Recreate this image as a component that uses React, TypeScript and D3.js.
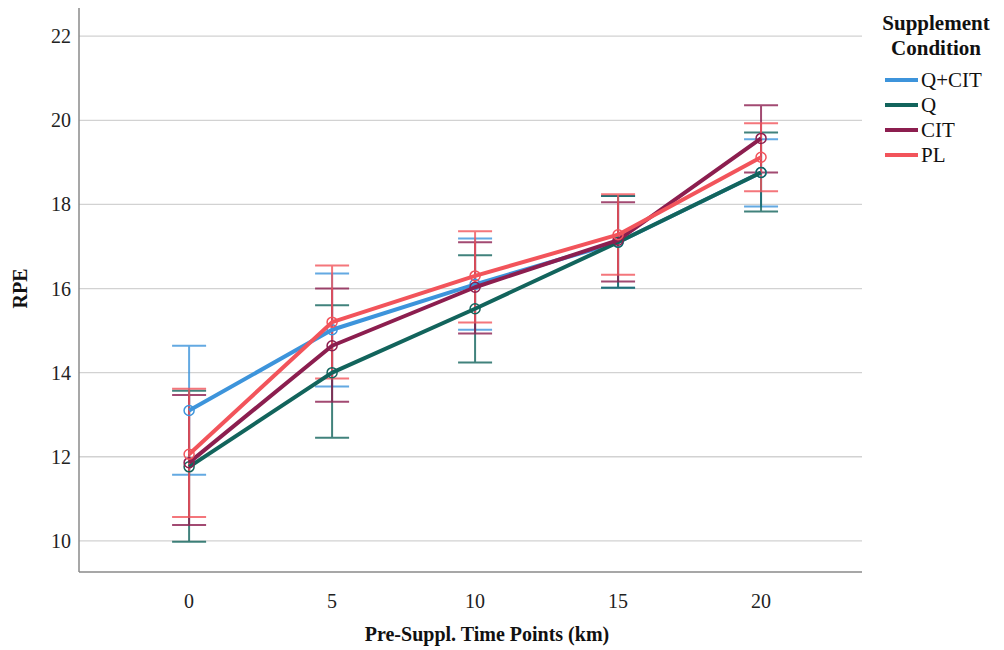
import React from 'react'
import * as d3 from 'd3'

// time points (km) and series
const timePoints = [0, 5, 10, 15, 20]
const seriesNames = ['Q+CIT', 'Q', 'CIT', 'PL']
const seriesColors = ['#3d94db', '#12645c', '#8c1e4f', '#f2545b']

const qcitMean = [13.1, 15.02, 16.1, 17.1, 18.76]
const qMean = [11.76, 14.0, 15.52, 17.1, 18.76]
const citMean = [11.86, 14.64, 16.03, 17.15, 19.57]
const plMean = [12.06, 15.2, 16.3, 17.28, 19.12]

const qcitLow = [11.57, 13.67, 15.02, 16.02, 17.95]
const qcitHigh = [14.64, 16.36, 17.19, 18.2, 19.55]
const qLow = [9.98, 12.45, 14.24, 16.02, 17.83]
const qHigh = [13.57, 15.6, 16.79, 18.2, 19.71]
const citLow = [10.38, 13.31, 14.93, 16.17, 18.76]
const citHigh = [13.47, 16.0, 17.1, 18.05, 20.36]
const plLow = [10.57, 13.86, 15.19, 16.33, 18.31]
const plHigh = [13.62, 16.55, 17.36, 18.24, 19.93]

const yTicks = [10, 12, 14, 16, 18, 20, 22]

const means = [qcitMean, qMean, citMean, plMean]
const lows = [qcitLow, qLow, citLow, plLow]
const highs = [qcitHigh, qHigh, citHigh, plHigh]

const W = 1004
const H = 650
const left = 79
const right = 862
const top = 8
const bottom = 572
const font = '"Liberation Serif", "Times New Roman", serif'

const App = () => {
    const x = d3.scaleLinear().domain([-3.85, 23.53]).range([left, right])
    const y = d3.scaleLinear().domain([9.26, 22.67]).range([bottom, top])

    const line = d3
        .line<number>()
        .x((d, i) => x(timePoints[i]))
        .y(d => y(d))

    const cap = 17

    return (
        <svg
            width={W}
            height={H}
            style={{ position: 'absolute', left: 0, top: 0, background: '#fff' }}
            fontFamily={font}
        >
            {/* grid */}
            {yTicks.map(t => (
                <line
                    key={t}
                    x1={left}
                    x2={right}
                    y1={y(t)}
                    y2={y(t)}
                    stroke='#d2d2d2'
                    strokeWidth={1.3}
                />
            ))}
            {/* axes */}
            <line x1={left} x2={left} y1={top} y2={bottom} stroke='#8a8a8a' strokeWidth={1.5} />
            <line x1={left} x2={right} y1={bottom} y2={bottom} stroke='#8a8a8a' strokeWidth={1.5} />
            {yTicks.map(t => (
                <text key={t} x={71} y={y(t)} dy='0.35em' textAnchor='end' fontSize={20} fill='#222'>
                    {t}
                </text>
            ))}
            {timePoints.map(t => (
                <text key={t} x={x(t)} y={601} dy='0.35em' textAnchor='middle' fontSize={20} fill='#222'>
                    {t}
                </text>
            ))}
            <text x={487} y={634} dy='0.35em' textAnchor='middle' fontSize={20} fontWeight='bold' fill='#111'>
                Pre-Suppl. Time Points (km)
            </text>
            <text
                transform={`translate(20, ${y(16)}) rotate(-90)`}
                dy='0.35em'
                textAnchor='middle'
                fontSize={20}
                fontWeight='bold'
                fill='#111'
            >
                RPE
            </text>

            {/* error bars */}
            {seriesNames.map((s, si) => (
                <g key={s} stroke={seriesColors[si]} strokeWidth={2} opacity={0.8}>
                    {timePoints.map((t, i) => (
                        <g key={t}>
                            <line x1={x(t)} x2={x(t)} y1={y(lows[si][i])} y2={y(highs[si][i])} />
                            <line x1={x(t) - cap} x2={x(t) + cap} y1={y(lows[si][i])} y2={y(lows[si][i])} />
                            <line x1={x(t) - cap} x2={x(t) + cap} y1={y(highs[si][i])} y2={y(highs[si][i])} />
                        </g>
                    ))}
                </g>
            ))}

            {/* mean lines */}
            {seriesNames.map((s, si) => (
                <g key={s}>
                    <path d={line(means[si]) || ''} fill='none' stroke={seriesColors[si]} strokeWidth={4} strokeLinejoin='round' />
                    {means[si].map((v, i) => (
                        <circle
                            key={i}
                            cx={x(timePoints[i])}
                            cy={y(v)}
                            r={5}
                            fill='none'
                            stroke={seriesColors[si]}
                            strokeWidth={1.5}
                        />
                    ))}
                </g>
            ))}

            {/* legend */}
            <text x={936} y={23} dy='0.35em' textAnchor='middle' fontSize={21} fontWeight='bold' fill='#111'>
                Supplement
            </text>
            <text x={936} y={48} dy='0.35em' textAnchor='middle' fontSize={21} fontWeight='bold' fill='#111'>
                Condition
            </text>
            {seriesNames.map((s, si) => (
                <g key={s} transform={`translate(885, ${80 + si * 25})`}>
                    <line x1={0} x2={33} y1={0} y2={0} stroke={seriesColors[si]} strokeWidth={4} />
                    <text x={36} y={0} dy='0.35em' fontSize={21} fill='#111'>
                        {s}
                    </text>
                </g>
            ))}
        </svg>
    )
}

export default App
